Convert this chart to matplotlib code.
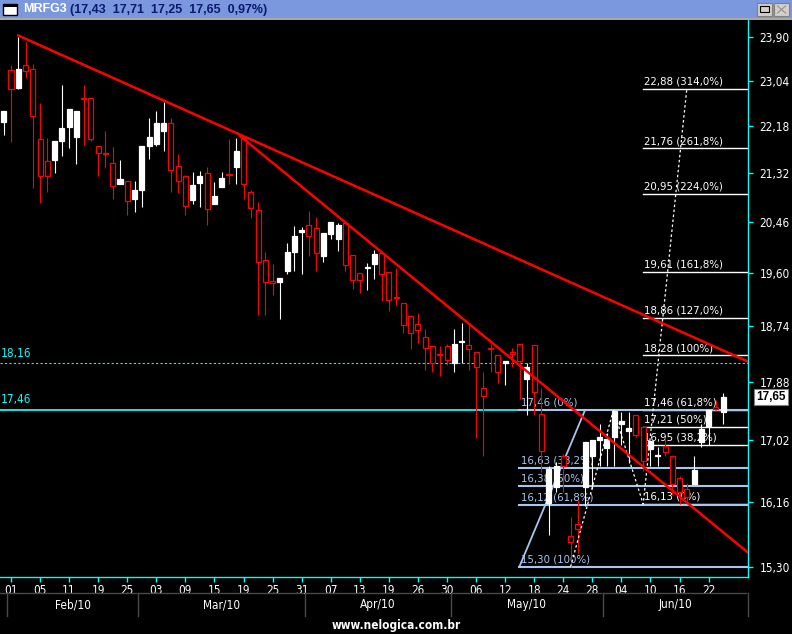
import matplotlib
matplotlib.use("Agg")
import matplotlib.pyplot as plt
import matplotlib.transforms as mtrans
from matplotlib.patches import Rectangle
from matplotlib.ticker import FixedLocator, NullLocator

# ---- data (one entry per trading session, Jan 29 .. Jun 24 2010) ----
ticker = "MRFG3"
quote_text = "(17,43  17,71  17,25  17,65  0,97%)"

opens = [22.25, 23.24, 22.90, 23.35, 23.26, 21.93, 21.54, 21.55, 21.90, 22.16,
         21.97, 22.70, 22.70, 21.81, 21.68, 21.50, 21.11, 21.17, 20.86, 21.02,
         21.81, 21.85, 22.08, 22.24, 21.45, 21.26, 20.84, 21.13, 21.32, 20.77,
         21.06, 21.30, 21.43, 21.96, 20.98, 20.67, 19.81, 19.46, 19.45, 19.62,
         19.95, 20.29, 20.40, 20.35, 19.87, 20.24, 20.17, 20.44, 19.89, 19.59,
         19.68, 19.75, 19.92, 19.61, 19.21, 19.10, 18.89, 18.77, 18.57, 18.43,
         18.30, 18.43, 18.17, 18.49, 18.44, 18.34, 17.78, 18.40, 18.28, 18.17,
         18.33, 18.45, 17.92, 18.44, 17.40, 16.15, 16.37, 16.79, 15.70, 15.86,
         16.37, 16.79, 17.03, 16.91, 17.07, 17.26, 17.15, 17.39, 17.21, 16.89,
         16.79, 16.94, 16.80, 16.49, 16.33, 16.40, 17.00, 17.22, 17.50, 17.43]
highs = [22.45, 23.34, 23.90, 23.81, 23.37, 22.60, 21.95, 21.90, 22.95, 22.49,
         22.45, 22.95, 22.70, 21.81, 22.08, 21.78, 21.55, 21.17, 21.17, 21.80,
         22.33, 22.45, 22.63, 22.33, 21.66, 21.26, 21.33, 21.35, 21.42, 21.15,
         21.33, 21.93, 21.96, 21.96, 21.02, 20.80, 19.95, 19.75, 19.51, 20.10,
         20.39, 20.36, 20.64, 20.54, 20.27, 20.46, 20.44, 20.44, 19.89, 19.59,
         19.76, 19.97, 19.92, 19.61, 19.68, 19.10, 18.91, 18.94, 18.69, 18.43,
         18.42, 18.45, 18.69, 18.79, 18.77, 18.34, 18.02, 18.46, 18.28, 18.20,
         18.40, 18.45, 18.17, 18.44, 17.79, 16.65, 16.71, 16.82, 15.95, 16.19,
         16.99, 17.02, 17.25, 17.12, 17.46, 17.43, 17.43, 17.39, 17.21, 17.01,
         16.93, 17.07, 16.80, 16.52, 16.42, 16.80, 17.25, 17.46, 17.61, 17.71]
lows = [22.01, 21.87, 22.88, 23.09, 21.04, 20.79, 20.98, 21.32, 21.62, 21.76,
        21.48, 21.82, 21.90, 21.26, 21.41, 20.86, 21.11, 20.57, 20.62, 20.72,
        21.57, 21.81, 21.72, 20.98, 20.96, 20.58, 20.77, 20.72, 20.41, 20.77,
        21.06, 21.12, 21.12, 20.86, 20.52, 18.91, 18.91, 19.24, 18.85, 19.57,
        19.62, 19.57, 19.87, 19.62, 19.77, 20.17, 19.96, 19.63, 19.34, 19.27,
        19.32, 19.50, 19.14, 18.98, 19.08, 18.63, 18.38, 18.48, 18.06, 18.02,
        17.97, 18.14, 18.02, 18.17, 18.06, 17.06, 16.80, 18.02, 17.86, 17.83,
        18.11, 17.62, 17.39, 17.39, 16.57, 15.72, 16.30, 16.30, 15.30, 15.48,
        16.10, 16.33, 16.65, 16.65, 16.66, 16.96, 16.70, 17.07, 16.58, 16.65,
        16.65, 16.80, 16.26, 16.13, 16.17, 16.40, 16.92, 16.96, 17.46, 17.25]
closes = [22.45, 22.87, 23.26, 23.22, 22.37, 21.27, 21.27, 21.90, 22.13, 22.49,
          22.45, 22.68, 21.93, 21.67, 21.66, 21.08, 21.21, 20.82, 21.01, 21.80,
          21.98, 22.24, 22.24, 21.36, 21.18, 20.73, 21.10, 21.26, 20.68, 20.91,
          21.22, 21.28, 21.71, 21.12, 20.70, 19.78, 19.45, 19.43, 19.51, 19.95,
          20.22, 20.31, 20.22, 19.92, 20.27, 20.46, 20.40, 19.73, 19.48, 19.48,
          19.70, 19.91, 19.57, 19.16, 19.18, 18.75, 18.63, 18.68, 18.40, 18.16,
          18.28, 18.21, 18.46, 18.51, 18.38, 18.11, 17.66, 18.38, 18.02, 18.20,
          18.31, 18.20, 18.11, 17.73, 16.87, 16.61, 16.65, 16.66, 15.63, 15.79,
          16.99, 17.02, 17.07, 17.04, 17.45, 17.30, 17.20, 17.10, 16.72, 17.01,
          16.81, 16.86, 16.41, 16.29, 16.23, 16.60, 17.18, 17.46, 17.48, 17.65]

date_labels = ["01", "05", "11", "19", "25", "03", "09", "15", "19", "25", "31", "07", "13",
               "19", "26", "30", "06", "12", "18", "24", "28", "04", "10", "16", "22"]
months = ["", "Feb/10", "Mar/10", "Apr/10", "May/10", "Jun/10"]
month_first_session = [-0.3, 1, 19, 42, 62, 83]

price_ticks = [23.90, 23.04, 22.18, 21.32, 20.46, 19.60, 18.74, 17.88, 17.02, 16.16, 15.30]

# trend lines drawn on the chart: (session, price) end points
trend_a_x = [2, 102.35]
trend_a_y = [23.93, 18.19]
trend_b_x = [32.5, 102.35]
trend_b_y = [21.99, 15.49]

# retracement 17,46 -> 15,30
fib1_levels = [17.46, 16.63, 16.38, 16.12, 15.30]
fib1_pcts = ["0%", "38,2%", "50%", "61,8%", "100%"]
fib1_start = 70.9
fib1_diag_x = [70.95, 80.0]
fib1_diag_y = [15.30, 17.46]

# projection from 16,13
fib2_levels = [22.88, 21.76, 20.95, 19.61, 18.86, 18.28, 17.46, 17.21, 16.95, 16.13]
fib2_pcts = ["314,0%", "261,8%", "224,0%", "161,8%", "127,0%", "100%", "61,8%", "50%", "38,2%", "0%"]
fib2_start = 88.0
proj_x = [78, 83.9, 88.0, 94.0]
proj_y = [15.30, 17.46, 16.13, 22.88]

level_solid = 17.46
level_dash = 18.16
last_price = 17.65

# ---- figure ----
W, H = 792, 634
CYAN = "#00FFFF"
RED = "#FF0000"
FIBBLUE = "#A9C6EE"
FONT = ["Liberation Sans", "DejaVu Sans"]
COND = dict(family="DejaVu Sans", fontstretch="condensed")


def fmt(v):
    return f"{v:.2f}".replace(".", ",")


def fy(py):
    return 1 - py / H


fig = plt.figure(figsize=(W / 100, H / 100), dpi=100, facecolor="black")
ax = fig.add_axes([0, fy(577), 747.5 / W, (577 - 20) / H])
ax.set_facecolor("black")
ax.set_yscale("log")
ax.set_xlim(-0.513, 102.35)
ax.set_ylim(15.17, 24.245)

# horizontal reference lines
ax.axhline(level_solid, color=CYAN, lw=1.3, zorder=1)
ax.axhline(level_dash, color=CYAN, lw=0.8, ls=(0, (2, 2)), zorder=1)
left_tr = mtrans.blended_transform_factory(ax.transAxes, ax.transData)
for lv in [level_dash, level_solid]:
    ax.text(0.001, lv * 1.003, fmt(lv), color=CYAN, fontsize=8.5, **COND,
            transform=left_tr, va="bottom", ha="left", zorder=1)

# fibonacci retracement
xr = 102.35
for lv, p in zip(fib1_levels, fib1_pcts):
    ax.plot([fib1_start, xr], [lv, lv], color=FIBBLUE, lw=1.5, zorder=2.2)
    ax.text(fib1_start + 0.25, lv * 1.002, f"{fmt(lv)} ({p})", color=FIBBLUE, fontsize=8.2,
            **COND, va="bottom", ha="left", zorder=2.2)
ax.plot(fib1_diag_x, fib1_diag_y, color=FIBBLUE, lw=1.3, zorder=2.2)

# fibonacci projection
for lv, p in zip(fib2_levels, fib2_pcts):
    ax.plot([fib2_start, xr], [lv, lv], color="white", lw=1.0, zorder=2)
    ax.text(fib2_start + 0.1, lv * 1.002, f"{fmt(lv)} ({p})", color="white", fontsize=8.2,
            **COND, va="bottom", ha="left", zorder=2)
ax.plot(proj_x, proj_y, color="white", lw=0.9, ls=(0, (2, 2)), zorder=5)

# candles
bw = 0.69
for i, (o, h, l, c) in enumerate(zip(opens, highs, lows, closes)):
    up = c >= o
    col = "white" if up else RED
    ax.plot([i, i], [l, h], color=col, lw=0.8, zorder=3, solid_capstyle="butt")
    lo, hi = min(o, c), max(o, c)
    ax.add_patch(Rectangle((i - bw / 2, lo), bw, hi - lo, facecolor="white" if up else "black",
                           edgecolor=col, lw=0.9, zorder=4))

# trend lines
ax.plot(trend_a_x, trend_a_y, color=RED, lw=1.8, zorder=5)
ax.plot(trend_b_x, trend_b_y, color=RED, lw=1.8, zorder=5)

# axes styling
for s in ["top", "left"]:
    ax.spines[s].set_visible(False)
for s in ["right", "bottom"]:
    ax.spines[s].set_color(CYAN)
    ax.spines[s].set_linewidth(1.0)
ax.yaxis.tick_right()
ax.yaxis.set_major_locator(FixedLocator(price_ticks))
ax.yaxis.set_minor_locator(NullLocator())
ax.set_yticklabels([fmt(v) for v in price_ticks])
ax.tick_params(axis="y", colors=CYAN, labelcolor="white", length=3.5, width=1,
               pad=5, labelsize=8.5)
tick_idx = list(range(1, 1 + 4 * len(date_labels), 4))
ax.set_xticks(tick_idx)
ax.set_xticklabels(date_labels)
ax.xaxis.set_minor_locator(NullLocator())
ax.tick_params(axis="x", colors=CYAN, labelcolor="white", length=3.5, width=1,
               pad=1.5, labelsize=8.5)
for lab in ax.get_xticklabels() + ax.get_yticklabels():
    lab.set_family("DejaVu Sans")
    lab.set_fontstretch("condensed")

# last price tag
tag_tr = mtrans.blended_transform_factory(fig.transFigure, ax.transData)
ax.text(771 / W, last_price, fmt(last_price), transform=tag_tr, ha="center", va="center",
        fontsize=8.5, fontweight="bold", color="black", family=FONT,
        bbox=dict(boxstyle="square,pad=0.15", facecolor="white", edgecolor="#808080", lw=0.8),
        clip_on=False, zorder=10)

# month row under the date labels
mtr = mtrans.blended_transform_factory(ax.transData, fig.transFigure)
bounds = [m - 0.5 for m in month_first_session] + [xr]
for k, name in enumerate(months):
    x0, x1 = bounds[k], bounds[k + 1]
    ax.plot([x0, x0], [fy(593), fy(616)], color="#4A4A4A", lw=1, transform=mtr, clip_on=False)
    ax.plot([x0, x1 - 0.25], [fy(593), fy(593)], color="#4A4A4A", lw=1, transform=mtr, clip_on=False)
    if name:
        ax.text((x0 + x1) / 2, fy(604.5), name, color="white", fontsize=8.5, **COND,
                ha="center", va="center", transform=mtr)
ax.plot([xr, xr], [fy(593), fy(616)], color="#4A4A4A", lw=1, transform=mtr, clip_on=False)

fig.text(396 / W, fy(625), "www.nelogica.com.br", color="white", fontsize=8.5, fontweight="bold",
         family="DejaVu Sans", fontstretch="condensed", ha="center", va="center")

# window title bar
fig.patches.append(Rectangle((0, fy(18)), 1, 18 / H, transform=fig.transFigure,
                             facecolor="#7B97DE", edgecolor="none"))
fig.patches.append(Rectangle((0, fy(20)), 1, 2 / H, transform=fig.transFigure,
                             facecolor="#A8A8A8", edgecolor="none"))
fig.patches.append(Rectangle((3 / W, fy(15)), 14 / W, 11 / H, transform=fig.transFigure,
                             facecolor="white", edgecolor="black", lw=1.0))
fig.patches.append(Rectangle((3 / W, fy(7)), 14 / W, 3 / H, transform=fig.transFigure,
                             facecolor="black", edgecolor="none"))
for bx in [757, 774]:
    fig.patches.append(Rectangle((bx / W, fy(15.5)), 15 / W, 13 / H, transform=fig.transFigure,
                                 facecolor="#D4D0C8", edgecolor="#808080", lw=0.8))
fig.patches.append(Rectangle((760 / W, fy(12)), 9 / W, 6 / H, transform=fig.transFigure,
                             facecolor="none", edgecolor="black", lw=0.8))
fig.lines.append(plt.Line2D([777.5 / W, 785.5 / W], [fy(6), fy(13)], transform=fig.transFigure,
                            color="#909090", lw=0.8))
fig.lines.append(plt.Line2D([777.5 / W, 785.5 / W], [fy(13), fy(6)], transform=fig.transFigure,
                            color="#909090", lw=0.8))
fig.text(23 / W, fy(9.5), ticker, color="white", fontsize=9, fontweight="bold",
         family=FONT, ha="left", va="center")
fig.text(70 / W, fy(9.5), quote_text, color="#0A1A70", fontsize=9, fontweight="bold",
         family=FONT, ha="left", va="center")

fig.savefig("out.png", dpi=100, facecolor="black")
